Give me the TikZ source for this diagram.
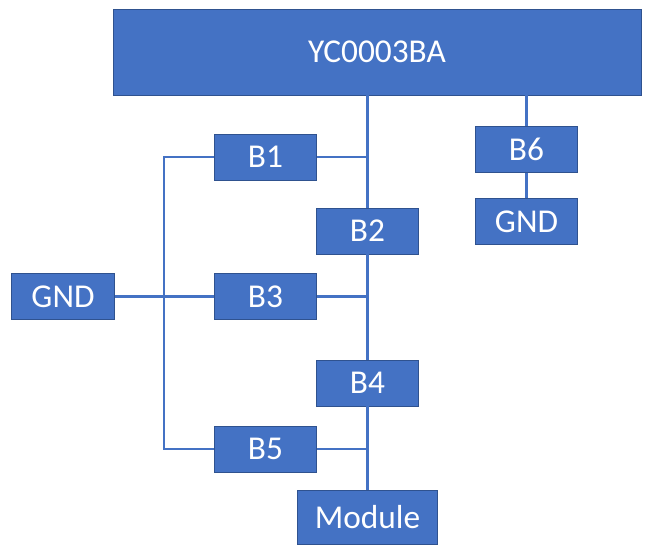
\documentclass[tikz,border=0pt]{standalone}
\usepackage{fontspec}
\setmainfont{Carlito}
\usepackage{tikz}
\usetikzlibrary{positioning}
\definecolor{boxblue}{RGB}{68,114,196}
\definecolor{edgeblue}{RGB}{47,82,143}

\begin{document}
\begin{tikzpicture}[
    x=0.75pt, y=-0.75pt,
    blk/.style={draw=edgeblue, fill=boxblue, line width=0.6pt, text=white, inner sep=0pt,
        minimum width=77pt, minimum height=34.5pt, font=\fontsize{25}{30}\selectfont},
    wire/.style={draw=boxblue, line width=1.6pt},
]
    \useasboundingbox (0,0) rectangle (655,554);

    % Top chip
    \node[blk, minimum width=396pt, minimum height=64.5pt] (yc) at (377,52) {YC0003BA};

    % Main column
    \node[blk] (b1) at (265.5,157) {B1};
    \node[blk] (b2) at (367.5,231) {B2};
    \node[blk] (b3) at (265.5,296.5) {B3};
    \node[blk] (b4) at (367.5,383) {B4};
    \node[blk] (b5) at (265.5,449) {B5};
    \node[blk, minimum width=105pt, minimum height=41pt] (module) at (367.5,517.5) {Module};
    \node[blk] (gndl) at (63,296.5) {GND};

    % Right branch
    \node[blk] (b6) at (526.5,149.5) {B6};
    \node[blk] (gndr) at (526.5,221.5) {GND};

    % Trunk
    \draw[wire] (yc.south -| b2.north) -- (b2.north);
    \draw[wire] (b2.south) -- (b4.north);
    \draw[wire] (b4.south) -- (module.north);
    \draw[wire] (b1.east) -- (b1.east -| b2.north);
    \draw[wire] (b3.east) -- (b3.east -| b2.south);
    \draw[wire] (b5.east) -- (b5.east -| module.north);

    % Left bus
    \coordinate (bus) at (164,300);
    \draw[wire] (b1.west) -- (b1.west -| bus) -- (b5.west -| bus) -- (b5.west);
    \draw[wire] (gndl.east) -- (b3.west);

    % B6 to ground
    \draw[wire] (yc.south -| b6.north) -- (b6.north);
    \draw[wire] (b6.south) -- (gndr.north);
\end{tikzpicture}
\end{document}
